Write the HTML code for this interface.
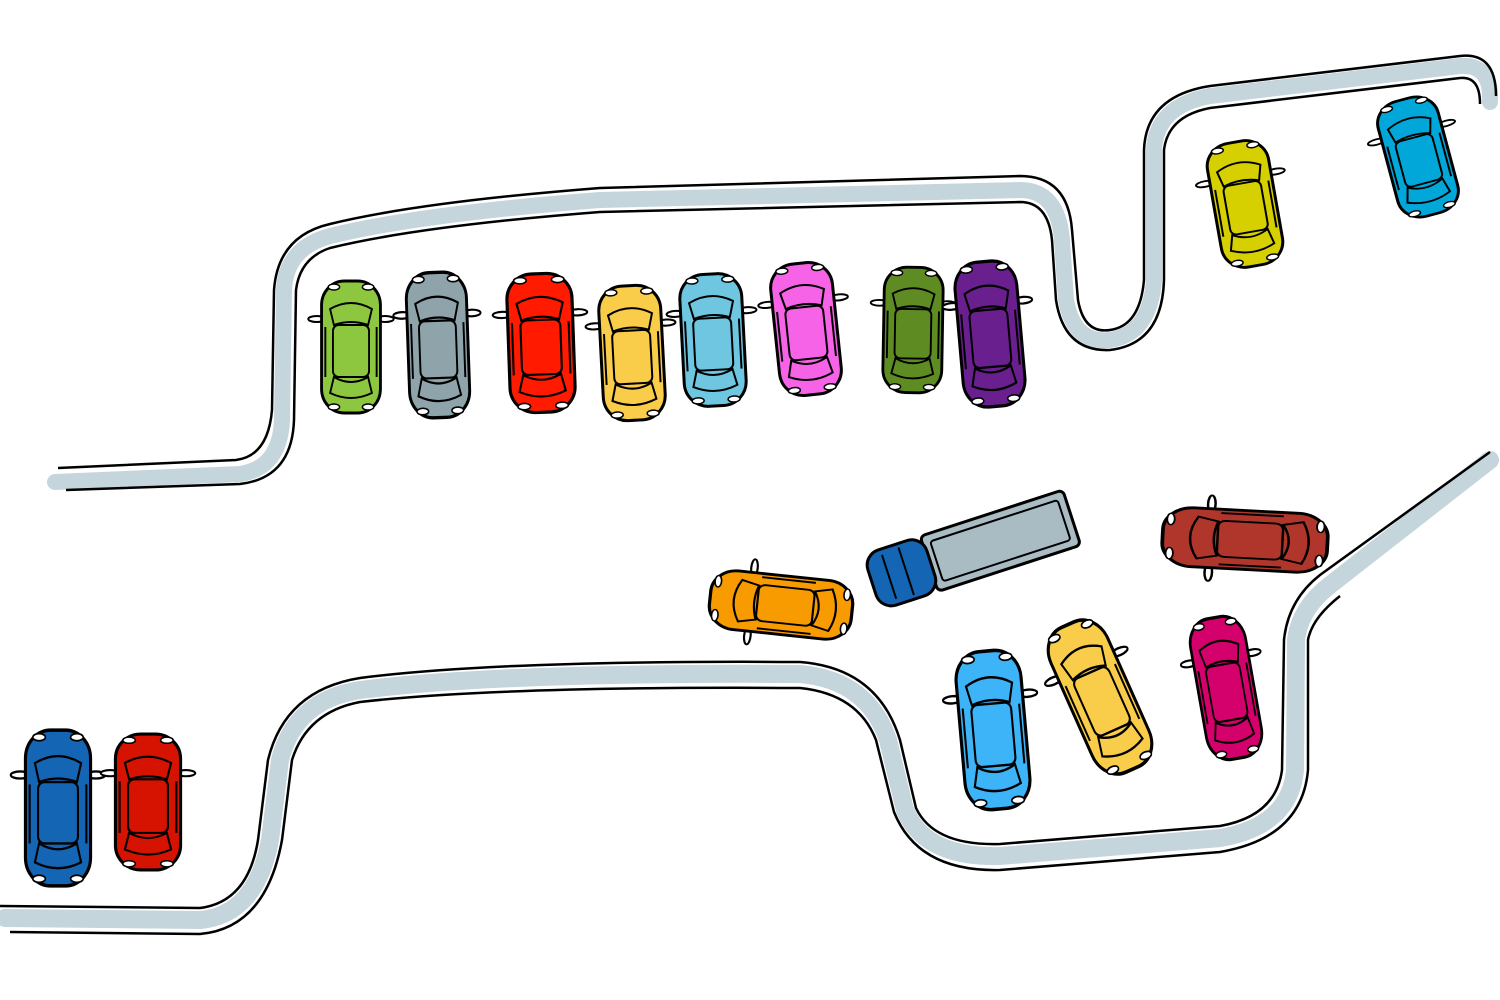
<!DOCTYPE html>
<html><head><meta charset="utf-8"><style>html,body{margin:0;padding:0;background:#fff}svg{display:block}</style></head>
<body>
<svg width="1500" height="1000" viewBox="0 0 1500 1000" xmlns="http://www.w3.org/2000/svg">
<defs>
<g id="car">
  <ellipse cx="-36" cy="-28" rx="9" ry="3" fill="#fff" stroke="#000" stroke-width="2"/>
  <ellipse cx="36" cy="-28" rx="9" ry="3" fill="#fff" stroke="#000" stroke-width="2"/>
  <rect x="-31" y="-66" width="62" height="132" rx="24" fill="currentColor" stroke="#000" stroke-width="3"/>
  <path d="M-22,-38 Q0,-50 22,-38 L18,-22 Q0,-28 -18,-22 Z" fill="none" stroke="#000" stroke-width="2"/>
  <rect x="-19" y="-22" width="38" height="52" rx="6" fill="none" stroke="#000" stroke-width="2"/>
  <path d="M-18,30 Q0,40 18,30 L22,46 Q0,56 -22,46 Z" fill="none" stroke="#000" stroke-width="2"/>
  <line x1="-27" y1="-20" x2="-27" y2="30" stroke="#000" stroke-width="2"/>
  <line x1="27" y1="-20" x2="27" y2="30" stroke="#000" stroke-width="2"/>
  <ellipse cx="-18" cy="-60" rx="6" ry="3" fill="#fff" stroke="#000" stroke-width="1.5"/>
  <ellipse cx="18" cy="-60" rx="6" ry="3" fill="#fff" stroke="#000" stroke-width="1.5"/>
  <ellipse cx="-18" cy="60" rx="6" ry="3" fill="#fff" stroke="#000" stroke-width="1.5"/>
  <ellipse cx="18" cy="60" rx="6" ry="3" fill="#fff" stroke="#000" stroke-width="1.5"/>
</g>
</defs>

<!-- upper road -->
<path d="M55,482 L240,474 Q280,468 282,420 L284,290 Q286,248 330,236 Q420,214 600,200 L1020,190 Q1058,190 1062,240 L1066,300 Q1074,344 1110,340 Q1150,334 1154,280 L1154,150 Q1156,106 1210,96 L1460,66 Q1492,64 1490,102" fill="none" stroke="#c5d5dc" stroke-width="16" stroke-linecap="round"/>
<path d="M58,468 L236,460 Q268,456 272,410 L274,290 Q278,236 330,224 Q420,202 600,188 L1020,176 Q1068,176 1072,230 L1078,300 Q1084,334 1110,330 Q1140,326 1144,280 L1144,150 Q1146,96 1210,86 L1460,56 Q1496,52 1496,96" fill="none" stroke="#000" stroke-width="2.5"/>
<path d="M66,490 L240,484 Q292,478 294,420 L296,290 Q300,258 330,248 Q420,226 600,212 L1020,202 Q1048,202 1052,240 L1056,300 Q1064,352 1110,350 Q1162,344 1164,280 L1164,150 Q1168,116 1210,108 L1460,78 Q1480,76 1480,104" fill="none" stroke="#000" stroke-width="2.5"/>

<!-- lower road -->
<path d="M5,918 L200,920 Q256,915 270,840 L280,760 Q295,700 360,690 Q500,672 800,674 Q868,680 888,740 L905,810 Q925,858 1000,856 L1220,838 Q1290,826 1295,770 L1296,640 Q1300,608 1330,585 L1490,460" fill="none" stroke="#c5d5dc" stroke-width="18" stroke-linecap="round"/>
<path d="M0,906 L200,908 Q248,902 258,840 L268,760 Q285,690 360,678 Q500,660 800,662 Q878,668 900,740 L916,808 Q934,846 1000,844 L1220,826 Q1276,816 1282,770 L1284,640 Q1288,600 1320,575 L1490,452" fill="none" stroke="#000" stroke-width="2.5"/>
<path d="M10,932 L200,934 Q266,928 282,840 L292,760 Q307,712 360,702 Q500,686 800,688 Q858,694 876,740 L894,812 Q918,872 1000,870 L1220,852 Q1302,838 1308,770 L1308,640 Q1312,618 1340,596" fill="none" stroke="#000" stroke-width="2.5"/>

<!-- upper cars -->
<use href="#car" style="color:#8dc63f" transform="translate(351,347) scale(0.95,1)"/>
<use href="#car" style="color:#8fa3ab" transform="translate(438,345) rotate(-2) scale(0.97,1.1)"/>
<use href="#car" style="color:#ff1a00" transform="translate(541,343) rotate(-2) scale(1.05,1.05)"/>
<use href="#car" style="color:#f9cc4a" transform="translate(632,353) rotate(-3) scale(1,1.02)"/>
<use href="#car" style="color:#6ec6e0" transform="translate(713,340) rotate(-3) scale(1,1)"/>
<use href="#car" style="color:#f763e6" transform="translate(806,329) rotate(-6) scale(1,1)"/>
<use href="#car" style="color:#5f8c22" transform="translate(913,330) rotate(1) scale(0.95,0.95)"/>
<use href="#car" style="color:#6a1f8f" transform="translate(990,334) rotate(-5) scale(1,1.1)"/>
<use href="#car" style="color:#d6d000" transform="translate(1245,204) rotate(-10) scale(1,0.95)"/>
<use href="#car" style="color:#00a7d8" transform="translate(1418,157) rotate(-15) scale(1,0.9)"/>

<!-- middle -->
<use href="#car" style="color:#f79b00" transform="translate(781,605) rotate(-84) scale(0.95,1.08)"/>
<g transform="translate(975,550) rotate(-18)">
  <rect x="-48" y="-30" width="150" height="58" rx="5" fill="#a9bcc3" stroke="#000" stroke-width="3"/>
  <rect x="-40" y="-22" width="134" height="42" rx="3" fill="none" stroke="#000" stroke-width="2"/>
  <rect x="-108" y="-30" width="62" height="58" rx="16" fill="#1565b5" stroke="#000" stroke-width="3"/>
  <path d="M-90,-24 L-90,22 M-72,-26 L-72,24" stroke="#000" stroke-width="2" fill="none"/>
</g>
<use href="#car" style="color:#b0362c" transform="translate(1245,540) rotate(-87) scale(0.95,1.25)"/>
<use href="#car" style="color:#3cb4f7" transform="translate(993,730) rotate(-5) scale(1.05,1.2)"/>
<use href="#car" style="color:#f9cc4a" transform="translate(1100,697) rotate(-24) scale(1,1.2)"/>
<use href="#car" style="color:#d4006b" transform="translate(1226,688) rotate(-10) scale(0.9,1.08)"/>

<!-- lower left -->
<use href="#car" style="color:#1565b5" transform="translate(58,808) scale(1.05,1.18)"/>
<use href="#car" style="color:#d61300" transform="translate(148,802) scale(1.05,1.03)"/>
</svg>
</body></html>
